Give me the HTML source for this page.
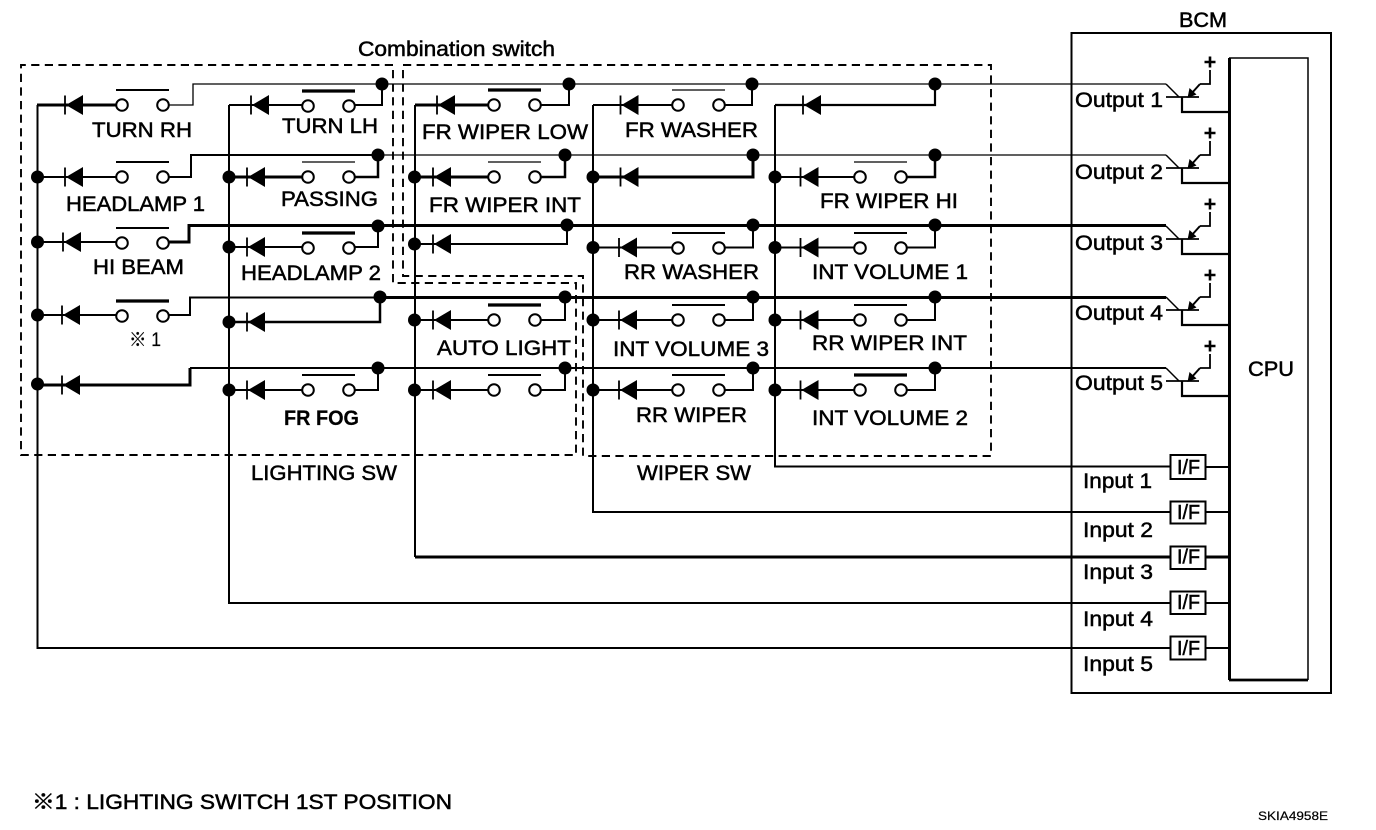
<!DOCTYPE html>
<html>
<head>
<meta charset="utf-8">
<style>
html,body{margin:0;padding:0;background:#fff;}
svg{display:block;}
text{font-family:"Liberation Sans","Noto Sans CJK JP",sans-serif;font-size:21px;fill:#000;stroke:#000;stroke-width:.5px;}
</style>
</head>
<body>
<svg width="1376" height="830" viewBox="0 0 1376 830" xmlns="http://www.w3.org/2000/svg">
<defs>
<g id="d"><path d="M0 -9.500V9.500" stroke="#000" stroke-width="1.8" fill="none"/><path d="M1 0L18 -10V10Z" fill="#000"/></g>
<g id="c"><circle cx="0" cy="0" r="5.800" fill="#fff" stroke="#000" stroke-width="2"/><circle cx="41" cy="0" r="5.800" fill="#fff" stroke="#000" stroke-width="2"/></g>
<g id="w1"><use href="#c"/><path d="M-6 -15H47" stroke="#000" stroke-width="1.2" fill="none"/></g>
<g id="w2"><use href="#c"/><path d="M-6 -15H47" stroke="#000" stroke-width="2" fill="none"/></g>
<g id="w3"><use href="#c"/><path d="M-6 -15H47" stroke="#000" stroke-width="3.200" fill="none"/></g>
<g id="t" fill="none" stroke="#000">
<path d="M1166 13H1199" stroke-width="1.800"/>
<path d="M1179 13L1166 0" stroke-width="1.500"/>
<path d="M1182 13V28H1229" stroke-width="2.200"/>
<path d="M1200 0H1210V-14" stroke-width="1.800"/>
<path d="M1200 0L1191 10" stroke-width="2"/>
<path d="M1187.500 14L1189.500 4L1196.500 10.500Z" fill="#000" stroke="none"/>
<path d="M1204.500 -22H1215.500M1210 -27.500V-16.500" stroke-width="2.600"/>
</g>
</defs>

<!-- dashed enclosures -->
<g fill="none" stroke="#000" stroke-width="1.900" stroke-dasharray="8.200 5.400">
<path d="M393 65H21V455H576V283H393Z"/>
<path d="M403 65H991V456H583V276H403Z"/>
</g>

<!-- BCM -->
<g fill="none" stroke="#000">
<rect x="1071.500" y="33" width="259.500" height="660" stroke-width="2"/>
<path d="M1229 58H1308V680" stroke-width="1.500"/>
<path d="M1229.500 58V680" stroke-width="3"/>
<path d="M1229 680H1308" stroke-width="2.800"/>
</g>

<!-- buses and inputs -->
<g fill="none" stroke="#000" stroke-width="2">
<path d="M37.500 105V648H1170"/>
<path d="M229 105V603H1170"/>
<path d="M415 105V557"/>
<path d="M415 557H1170" stroke-width="3"/>
<path d="M593 105V512H1170"/>
<path d="M775 105V466.500H1170"/>
<path d="M1205 467H1229M1205 512H1229M1205 603H1229M1205 648H1229"/>
<path d="M1205 557H1229" stroke-width="3"/>
</g>

<!-- row trunks -->
<g fill="none" stroke="#000">
<path d="M169 105H193V84H1166" stroke-width="1.300"/>
<path d="M169 177H191V155H378" stroke-width="2"/>
<path d="M378 155H1166" stroke-width="1.300"/>
<path d="M169 242H189V225.500H1166" stroke-width="3"/>
<path d="M169 315H190V297.500H380" stroke-width="2"/>
<path d="M380 297.500H1166" stroke-width="3"/>
<path d="M37 385H190V368" stroke-width="3"/>
<path d="M190 368H1166" stroke-width="2"/>
</g>

<!-- branch wires -->
<g fill="none" stroke="#000" stroke-width="2">
<path d="M37 105H122" stroke-width="3"/>
<path d="M37 177H122"/>
<path d="M37 242H122"/>
<path d="M37 315H122"/>
<path d="M229 105H308M349 105H382V84"/>
<path d="M229 177H308" stroke-width="3"/><path d="M349 177H378V155" stroke-width="2.500"/>
<path d="M229 247H308M349 247H378V226"/>
<path d="M229 322H380V297" stroke-width="2.500"/>
<path d="M229 390H308M349 390H378V368"/>
<path d="M415 105H494" stroke-width="3"/><path d="M535 105H569V84"/>
<path d="M415 177H494" stroke-width="3"/><path d="M535 177H565V155" stroke-width="2.500"/>
<path d="M415 244H567V225"/>
<path d="M415 320H494M535 320H565V297"/>
<path d="M415 390H494M535 390H565V368"/>
<path d="M593 105H678M719 105H752V84"/>
<path d="M593 177H753V155" stroke-width="3"/>
<path d="M593 247.500H678M719 247.500H753V225"/>
<path d="M593 320H678M719 320H753V297"/>
<path d="M593 390H678M719 390H753V368"/>
<path d="M775 105H935V84" stroke-width="2.200"/>
<path d="M775 177H860"/><path d="M901 177H935V155" stroke-width="2.500"/>
<path d="M775 247.500H860M901 247.500H935V225"/>
<path d="M775 320H860M901 320H935V297"/>
<path d="M775 390H860M901 390H935V368"/>
</g>

<!-- diodes -->
<use href="#d" x="65" y="105"/><use href="#d" x="65" y="177"/><use href="#d" x="63" y="242"/><use href="#d" x="62" y="315"/><use href="#d" x="62" y="385"/>
<use href="#d" x="251" y="105"/><use href="#d" x="247" y="177"/><use href="#d" x="247" y="247"/><use href="#d" x="247" y="322"/><use href="#d" x="247" y="390"/>
<use href="#d" x="437" y="105"/><use href="#d" x="433" y="177"/><use href="#d" x="433" y="244"/><use href="#d" x="433" y="320"/><use href="#d" x="433" y="390"/>
<use href="#d" x="620.500" y="105"/><use href="#d" x="620.500" y="177"/><use href="#d" x="619" y="247.500"/><use href="#d" x="619" y="320"/><use href="#d" x="619" y="390"/>
<use href="#d" x="803" y="105"/><use href="#d" x="800.500" y="177"/><use href="#d" x="800.500" y="247.500"/><use href="#d" x="800.500" y="320"/><use href="#d" x="800.500" y="390"/>

<!-- switches -->
<use href="#w2" x="122" y="105"/>
<use href="#w2" x="122" y="177"/>
<use href="#w2" x="122" y="243"/>
<use href="#w3" x="122" y="316"/>
<use href="#w3" x="308" y="106"/>
<use href="#w1" x="308" y="177"/>
<use href="#w3" x="308" y="248"/>
<use href="#w2" x="308" y="390"/>
<use href="#w3" x="494" y="105"/>
<use href="#w1" x="494" y="177"/>
<use href="#w3" x="494" y="320"/>
<use href="#w2" x="494" y="390"/>
<use href="#w1" x="678" y="105"/>
<use href="#w2" x="678" y="248"/>
<use href="#w2" x="678" y="320"/>
<use href="#w2" x="678" y="390"/>
<use href="#w1" x="860" y="177"/>
<use href="#w2" x="860" y="248"/>
<use href="#w2" x="860" y="320"/>
<use href="#w3" x="860" y="390"/>

<!-- dots -->
<g fill="#000">
<circle cx="382" cy="84" r="6.500"/><circle cx="569" cy="84" r="6.500"/><circle cx="752" cy="84" r="6.500"/><circle cx="935" cy="84" r="6.500"/>
<circle cx="378" cy="155" r="6.500"/><circle cx="565" cy="155" r="6.500"/><circle cx="753" cy="155" r="6.500"/><circle cx="935" cy="155" r="6.500"/>
<circle cx="378" cy="226" r="6.500"/><circle cx="567" cy="225" r="6.500"/><circle cx="753" cy="225" r="6.500"/><circle cx="935" cy="225" r="6.500"/>
<circle cx="380" cy="297" r="6.500"/><circle cx="565" cy="297" r="6.500"/><circle cx="753" cy="297" r="6.500"/><circle cx="935" cy="297" r="6.500"/>
<circle cx="378" cy="368" r="6.500"/><circle cx="565" cy="368" r="6.500"/><circle cx="753" cy="368" r="6.500"/><circle cx="935" cy="368" r="6.500"/>
<circle cx="37.500" cy="177" r="6.500"/><circle cx="37.500" cy="242" r="6.500"/><circle cx="37.500" cy="315" r="6.500"/><circle cx="37.500" cy="384" r="6.500"/>
<circle cx="229" cy="177" r="6.500"/><circle cx="229" cy="247" r="6.500"/><circle cx="229" cy="322" r="6.500"/><circle cx="229" cy="390" r="6.500"/>
<circle cx="414.500" cy="177" r="6.500"/><circle cx="414.500" cy="244" r="6.500"/><circle cx="414.500" cy="320" r="6.500"/><circle cx="414.500" cy="390" r="6.500"/>
<circle cx="593" cy="177" r="6.500"/><circle cx="593" cy="247.500" r="6.500"/><circle cx="593" cy="320" r="6.500"/><circle cx="593" cy="390" r="6.500"/>
<circle cx="775" cy="177" r="6.500"/><circle cx="775" cy="247.500" r="6.500"/><circle cx="775" cy="320" r="6.500"/><circle cx="775" cy="390" r="6.500"/>
</g>

<!-- transistors -->
<use href="#t" y="84"/><use href="#t" y="155"/><use href="#t" y="226"/><use href="#t" y="297"/><use href="#t" y="368"/>

<!-- I/F -->
<g fill="#fff" stroke="#000" stroke-width="2">
<rect x="1170.500" y="455" width="35" height="24"/>
<rect x="1170.500" y="501.500" width="35" height="22"/>
<rect x="1170.500" y="546.500" width="35" height="22.500"/>
<rect x="1170.500" y="591.500" width="35" height="22.500"/>
<rect x="1170.500" y="636.500" width="35" height="23"/>
</g>
<text x="1177" y="474" textLength="23" lengthAdjust="spacingAndGlyphs" style="font-size:20px">I/F</text>
<text x="1177" y="519" textLength="23" lengthAdjust="spacingAndGlyphs" style="font-size:20px">I/F</text>
<text x="1177" y="563.500" textLength="23" lengthAdjust="spacingAndGlyphs" style="font-size:20px">I/F</text>
<text x="1177" y="609" textLength="23" lengthAdjust="spacingAndGlyphs" style="font-size:20px">I/F</text>
<text x="1177" y="655" textLength="23" lengthAdjust="spacingAndGlyphs" style="font-size:20px">I/F</text>

<!-- labels -->
<text x="358" y="56" textLength="197" lengthAdjust="spacingAndGlyphs">Combination switch</text>
<text x="1179" y="27" textLength="48" lengthAdjust="spacingAndGlyphs">BCM</text>
<text x="1248" y="376" textLength="46" lengthAdjust="spacingAndGlyphs">CPU</text>
<text x="92" y="137" textLength="100" lengthAdjust="spacingAndGlyphs">TURN RH</text>
<text x="282" y="133" textLength="96" lengthAdjust="spacingAndGlyphs">TURN LH</text>
<text x="422" y="139" textLength="166" lengthAdjust="spacingAndGlyphs">FR WIPER LOW</text>
<text x="625" y="137" textLength="133" lengthAdjust="spacingAndGlyphs">FR WASHER</text>
<text x="66" y="211" textLength="139" lengthAdjust="spacingAndGlyphs">HEADLAMP 1</text>
<text x="281" y="206" textLength="97" lengthAdjust="spacingAndGlyphs">PASSING</text>
<text x="429" y="212" textLength="152" lengthAdjust="spacingAndGlyphs">FR WIPER INT</text>
<text x="820" y="208" textLength="138" lengthAdjust="spacingAndGlyphs">FR WIPER HI</text>
<text x="93" y="274" textLength="91" lengthAdjust="spacingAndGlyphs">HI BEAM</text>
<text x="241" y="280" textLength="140" lengthAdjust="spacingAndGlyphs">HEADLAMP 2</text>
<text x="624" y="279" textLength="135" lengthAdjust="spacingAndGlyphs">RR WASHER</text>
<text x="812" y="279" textLength="156" lengthAdjust="spacingAndGlyphs">INT VOLUME 1</text>
<text x="129" y="346" textLength="32" lengthAdjust="spacingAndGlyphs" style="font-size:19px;stroke-width:.2px">※ 1</text>
<text x="437" y="355" textLength="134" lengthAdjust="spacingAndGlyphs">AUTO LIGHT</text>
<text x="613" y="356" textLength="156" lengthAdjust="spacingAndGlyphs">INT VOLUME 3</text>
<text x="812" y="350" textLength="155" lengthAdjust="spacingAndGlyphs">RR WIPER INT</text>
<text x="284" y="425" textLength="75" lengthAdjust="spacingAndGlyphs" style="font-weight:bold;stroke-width:.2px">FR FOG</text>
<text x="636" y="422" textLength="111" lengthAdjust="spacingAndGlyphs">RR WIPER</text>
<text x="812" y="425" textLength="156" lengthAdjust="spacingAndGlyphs">INT VOLUME 2</text>
<text x="251" y="480" textLength="146" lengthAdjust="spacingAndGlyphs">LIGHTING SW</text>
<text x="637" y="480" textLength="114" lengthAdjust="spacingAndGlyphs">WIPER SW</text>
<text x="1075" y="107" textLength="88" lengthAdjust="spacingAndGlyphs">Output 1</text>
<text x="1075" y="179" textLength="88" lengthAdjust="spacingAndGlyphs">Output 2</text>
<text x="1075" y="250" textLength="88" lengthAdjust="spacingAndGlyphs">Output 3</text>
<text x="1075" y="320" textLength="88" lengthAdjust="spacingAndGlyphs">Output 4</text>
<text x="1075" y="390" textLength="88" lengthAdjust="spacingAndGlyphs">Output 5</text>
<text x="1083" y="488" textLength="69" lengthAdjust="spacingAndGlyphs">Input 1</text>
<text x="1083" y="537" textLength="70" lengthAdjust="spacingAndGlyphs">Input 2</text>
<text x="1083" y="579" textLength="70" lengthAdjust="spacingAndGlyphs">Input 3</text>
<text x="1083" y="626" textLength="70" lengthAdjust="spacingAndGlyphs">Input 4</text>
<text x="1083" y="671" textLength="70" lengthAdjust="spacingAndGlyphs">Input 5</text>
<text x="32" y="809" textLength="420" lengthAdjust="spacingAndGlyphs">※1 : LIGHTING SWITCH 1ST POSITION</text>
<text x="1258" y="820" textLength="70" lengthAdjust="spacingAndGlyphs" style="font-size:12px;stroke-width:.2px">SKIA4958E</text>
</svg>
</body>
</html>
